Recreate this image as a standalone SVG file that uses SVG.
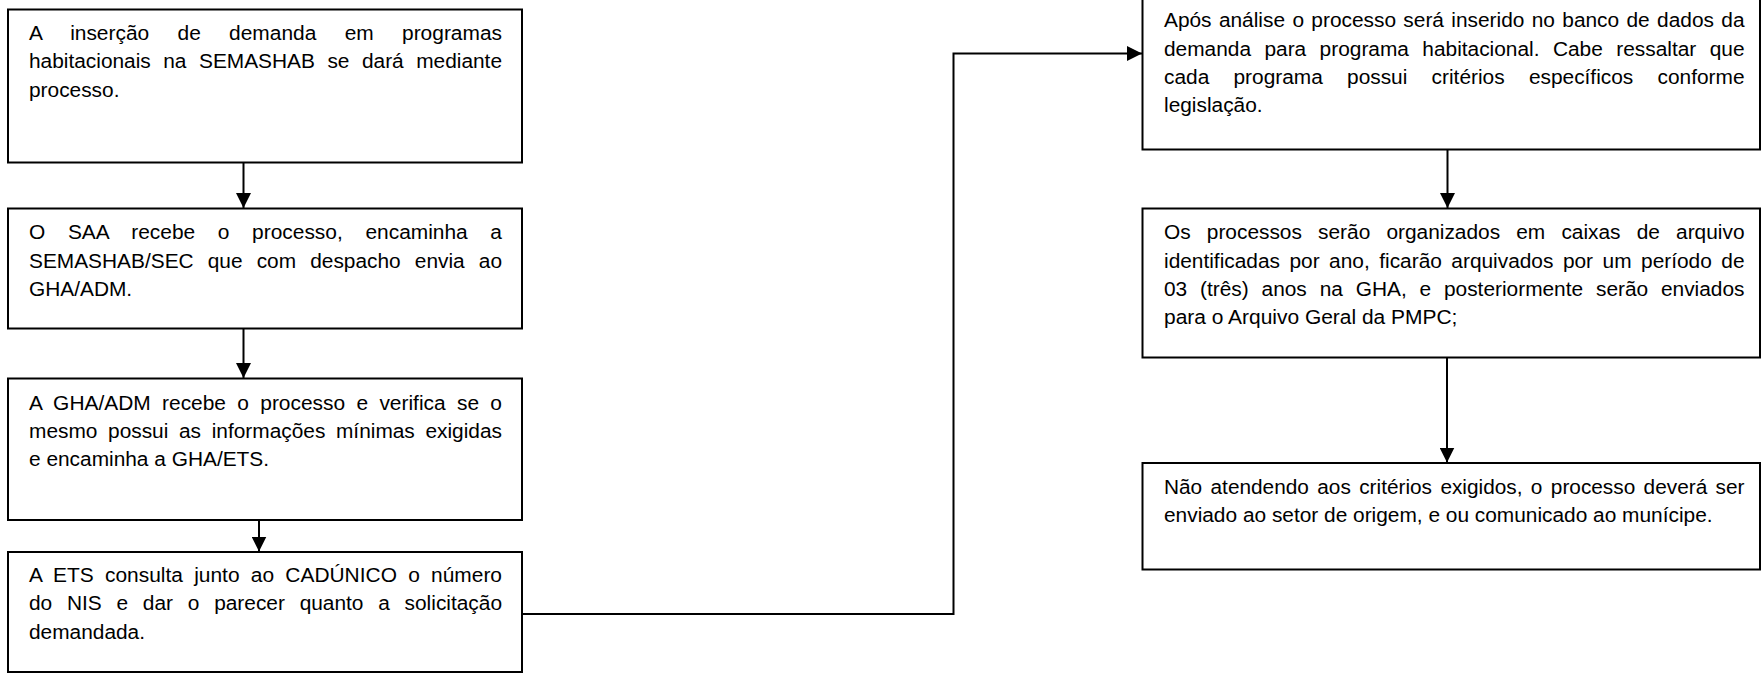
<svg xmlns="http://www.w3.org/2000/svg" width="1762" height="674" viewBox="0 0 1762 674">
  <style>
    .box { fill: #ffffff; stroke: #000000; stroke-width: 2; }
    .conn { fill: none; stroke: #000000; stroke-width: 2; }
    .t { font-family: "Liberation Sans", Arial, sans-serif; font-size: 19.5px; fill: #000000; }
  </style>
  <defs>
    <marker id="arrow" viewBox="0 0 15 15" refX="15" refY="7.5" markerWidth="15" markerHeight="15" markerUnits="userSpaceOnUse" orient="auto">
      <path d="M0,0 L15,7.5 L0,15 Z" fill="#000000"/>
    </marker>
  </defs>
  <rect x="0" y="0" width="1762" height="674" fill="#ffffff"/>

  <g id="connectors">
    <line class="conn" x1="243.5" y1="162.5" x2="243.5" y2="208" marker-end="url(#arrow)"/>
    <line class="conn" x1="243.5" y1="328.5" x2="243.5" y2="378" marker-end="url(#arrow)"/>
    <line class="conn" x1="259" y1="520" x2="259" y2="551.5" marker-end="url(#arrow)"/>
    <polyline class="conn" points="522,614 953.5,614 953.5,53.5 1142,53.5" marker-end="url(#arrow)"/>
    <line class="conn" x1="1447.5" y1="149.5" x2="1447.5" y2="208" marker-end="url(#arrow)"/>
    <line class="conn" x1="1447" y1="357.5" x2="1447" y2="462.5" marker-end="url(#arrow)"/>
  </g>

  <g id="node1">
    <rect class="box" x="8" y="9.5" width="514" height="153"/>
    <text class="t" x="29" y="40" textLength="473" lengthAdjust="spacingAndGlyphs" style="word-spacing:21px">A inserção de demanda em programas</text>
    <text class="t" x="29" y="68.3" textLength="473" lengthAdjust="spacingAndGlyphs" style="word-spacing:6.26px">habitacionais na SEMASHAB se dará mediante</text>
    <text class="t" x="29" y="96.6" textLength="90.45" lengthAdjust="spacingAndGlyphs">processo.</text>
  </g>

  <g id="node2">
    <rect class="box" x="8" y="208.5" width="514" height="120"/>
    <text class="t" x="29" y="239.3" textLength="473" lengthAdjust="spacingAndGlyphs" style="word-spacing:15.69px">O SAA recebe o processo, encaminha a</text>
    <text class="t" x="29" y="267.6" textLength="473" lengthAdjust="spacingAndGlyphs" style="word-spacing:7.79px">SEMASHAB/SEC que com despacho envia ao</text>
    <text class="t" x="29" y="295.9" textLength="103.18" lengthAdjust="spacingAndGlyphs">GHA/ADM.</text>
  </g>

  <g id="node3">
    <rect class="box" x="8" y="378.5" width="514" height="141.5"/>
    <text class="t" x="29" y="409.5" textLength="473" lengthAdjust="spacingAndGlyphs" style="word-spacing:5.14px">A GHA/ADM recebe o processo e verifica se o</text>
    <text class="t" x="29" y="437.8" textLength="473" lengthAdjust="spacingAndGlyphs" style="word-spacing:4.54px">mesmo possui as informações mínimas exigidas</text>
    <text class="t" x="29" y="466.1" textLength="240.05" lengthAdjust="spacingAndGlyphs">e encaminha a GHA/ETS.</text>
  </g>

  <g id="node4">
    <rect class="box" x="8" y="552" width="514" height="120"/>
    <text class="t" x="29" y="582" textLength="473" lengthAdjust="spacingAndGlyphs" style="word-spacing:5.09px">A ETS consulta junto ao CADÚNICO o número</text>
    <text class="t" x="29" y="610.3" textLength="473" lengthAdjust="spacingAndGlyphs" style="word-spacing:8.38px">do NIS e dar o parecer quanto a solicitação</text>
    <text class="t" x="29" y="638.6" textLength="115.99" lengthAdjust="spacingAndGlyphs">demandada.</text>
  </g>

  <g id="node5">
    <rect class="box" x="1142.5" y="-2" width="617.5" height="151.5"/>
    <text class="t" x="1164" y="27.3" textLength="580.5" lengthAdjust="spacingAndGlyphs" style="word-spacing:1.46px">Após análise o processo será inserido no banco de dados da</text>
    <text class="t" x="1164" y="55.5" textLength="580.5" lengthAdjust="spacingAndGlyphs" style="word-spacing:7.14px">demanda para programa habitacional. Cabe ressaltar que</text>
    <text class="t" x="1164" y="83.7" textLength="580.5" lengthAdjust="spacingAndGlyphs" style="word-spacing:17.25px">cada programa possui critérios específicos conforme</text>
    <text class="t" x="1164" y="111.9" textLength="98.57" lengthAdjust="spacingAndGlyphs">legislação.</text>
  </g>

  <g id="node6">
    <rect class="box" x="1142.5" y="208.5" width="617.5" height="149"/>
    <text class="t" x="1164" y="239.3" textLength="580.5" lengthAdjust="spacingAndGlyphs" style="word-spacing:9.69px">Os processos serão organizados em caixas de arquivo</text>
    <text class="t" x="1164" y="267.6" textLength="580.5" lengthAdjust="spacingAndGlyphs" style="word-spacing:3.46px">identificadas por ano, ficarão arquivados por um período de</text>
    <text class="t" x="1164" y="295.9" textLength="580.5" lengthAdjust="spacingAndGlyphs" style="word-spacing:6.58px">03 (três) anos na GHA, e posteriormente serão enviados</text>
    <text class="t" x="1164" y="324.2" textLength="293.38" lengthAdjust="spacingAndGlyphs">para o Arquivo Geral da PMPC;</text>
  </g>

  <g id="node7">
    <rect class="box" x="1142.5" y="463" width="617.5" height="106.5"/>
    <text class="t" x="1164" y="494" textLength="580.5" lengthAdjust="spacingAndGlyphs" style="word-spacing:2.48px">Não atendendo aos critérios exigidos, o processo deverá ser</text>
    <text class="t" x="1164" y="522" textLength="548.56" lengthAdjust="spacingAndGlyphs">enviado ao setor de origem, e ou comunicado ao munícipe.</text>
  </g>
</svg>
